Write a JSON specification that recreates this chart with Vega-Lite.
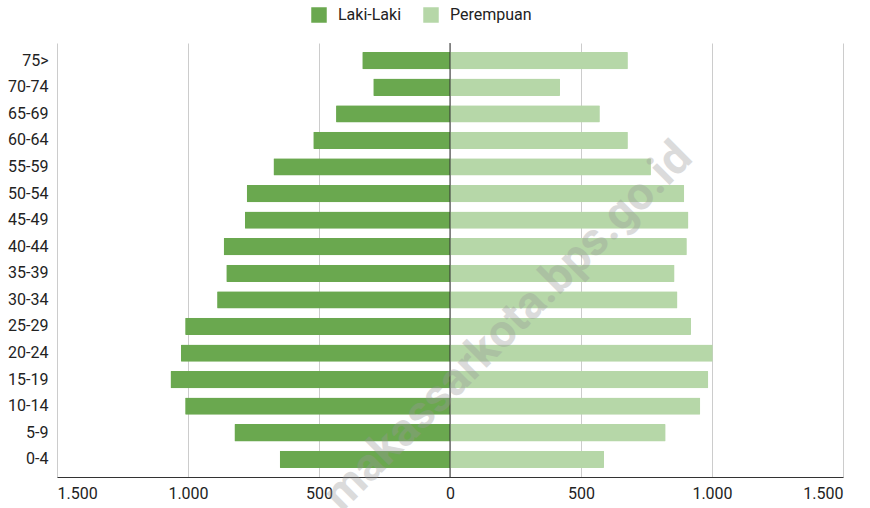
{
  "$schema": "https://vega.github.io/schema/vega-lite/v6.json",
  "width": 786,
  "height": 434,
  "autosize": {"type": "none"},
  "padding": {"left": 57, "top": 43, "right": 27, "bottom": 31},
  "background": "white",
  "config": {
    "font": "Roboto",
    "view": {"stroke": null},
    "axis": {"labelFont": "Roboto", "labelFontSize": 16, "labelColor": "#222"},
    "legend": {"labelFont": "Roboto"}
  },
  "layer": [
    {
      "data": {
        "values": [
          {"age": "75>", "sex": "Laki-Laki", "value": -335},
          {"age": "70-74", "sex": "Laki-Laki", "value": -293},
          {"age": "65-69", "sex": "Laki-Laki", "value": -435},
          {"age": "60-64", "sex": "Laki-Laki", "value": -522},
          {"age": "55-59", "sex": "Laki-Laki", "value": -674},
          {"age": "50-54", "sex": "Laki-Laki", "value": -776},
          {"age": "45-49", "sex": "Laki-Laki", "value": -783},
          {"age": "40-44", "sex": "Laki-Laki", "value": -864},
          {"age": "35-39", "sex": "Laki-Laki", "value": -854},
          {"age": "30-34", "sex": "Laki-Laki", "value": -889},
          {"age": "25-29", "sex": "Laki-Laki", "value": -1011},
          {"age": "20-24", "sex": "Laki-Laki", "value": -1027},
          {"age": "15-19", "sex": "Laki-Laki", "value": -1067},
          {"age": "10-14", "sex": "Laki-Laki", "value": -1011},
          {"age": "5-9", "sex": "Laki-Laki", "value": -823},
          {"age": "0-4", "sex": "Laki-Laki", "value": -650},
          {"age": "75>", "sex": "Perempuan", "value": 679},
          {"age": "70-74", "sex": "Perempuan", "value": 420},
          {"age": "65-69", "sex": "Perempuan", "value": 572},
          {"age": "60-64", "sex": "Perempuan", "value": 679},
          {"age": "55-59", "sex": "Perempuan", "value": 767},
          {"age": "50-54", "sex": "Perempuan", "value": 894},
          {"age": "45-49", "sex": "Perempuan", "value": 910},
          {"age": "40-44", "sex": "Perempuan", "value": 904},
          {"age": "35-39", "sex": "Perempuan", "value": 857},
          {"age": "30-34", "sex": "Perempuan", "value": 868},
          {"age": "25-29", "sex": "Perempuan", "value": 920},
          {"age": "20-24", "sex": "Perempuan", "value": 1003},
          {"age": "15-19", "sex": "Perempuan", "value": 986},
          {"age": "10-14", "sex": "Perempuan", "value": 955},
          {"age": "5-9", "sex": "Perempuan", "value": 823},
          {"age": "0-4", "sex": "Perempuan", "value": 588}
        ]
      },
      "mark": {"type": "bar", "cornerRadius": 1},
      "encoding": {
        "y": {
          "field": "age",
          "type": "nominal",
          "sort": ["75>", "70-74", "65-69", "60-64", "55-59", "50-54", "45-49", "40-44", "35-39", "30-34", "25-29", "20-24", "15-19", "10-14", "5-9", "0-4"],
          "scale": {"paddingInner": 0.35, "paddingOuter": 0.34},
          "axis": {"title": null, "ticks": false, "domain": false, "grid": false, "labelPadding": 9}
        },
        "x": {
          "field": "value",
          "type": "quantitative",
          "scale": {"domain": [-1500, 1500], "nice": false},
          "axis": {
            "title": null,
            "values": [-1500, -1000, -500, 0, 500, 1000, 1500],
            "labelExpr": "replace(format(abs(datum.value), ','), ',', '.')",
            "grid": true,
            "gridColor": "#cccccc",
            "gridWidth": 1,
            "ticks": false,
            "domainColor": "#333333",
            "domainWidth": 1,
            "labelPadding": 8
          }
        },
        "color": {
          "field": "sex",
          "type": "nominal",
          "scale": {"domain": ["Laki-Laki", "Perempuan"], "range": ["#6aa84f", "#b6d7a8"]},
          "legend": {
            "title": null,
            "orient": "none",
            "legendX": 254,
            "legendY": -36,
            "direction": "horizontal",
            "padding": 0,
            "symbolType": "square",
            "symbolSize": 240,
            "symbolStrokeWidth": 0,
            "symbolOpacity": 1,
            "labelFontSize": 16,
            "labelColor": "#222",
            "labelOffset": 11,
            "columnPadding": 21
          }
        }
      }
    },
    {
      "data": {"values": [{"zero": 0}]},
      "mark": {"type": "rule", "color": "#333333", "strokeWidth": 1},
      "encoding": {"x": {"field": "zero", "type": "quantitative"}}
    },
    {
      "data": {"values": [{"label": "makassarkota.bps.go.id", "xv": 222, "age": "25-29"}]},
      "mark": {"type": "text", "angle": -45, "font": "Roboto", "fontWeight": "bold", "fontSize": 46, "fill": "#999999", "opacity": 0.35, "align": "center", "baseline": "middle"},
      "encoding": {
        "x": {"field": "xv", "type": "quantitative"},
        "y": {
          "field": "age",
          "type": "nominal",
          "sort": ["75>", "70-74", "65-69", "60-64", "55-59", "50-54", "45-49", "40-44", "35-39", "30-34", "25-29", "20-24", "15-19", "10-14", "5-9", "0-4"]
        },
        "text": {"field": "label"}
      }
    }
  ]
}
